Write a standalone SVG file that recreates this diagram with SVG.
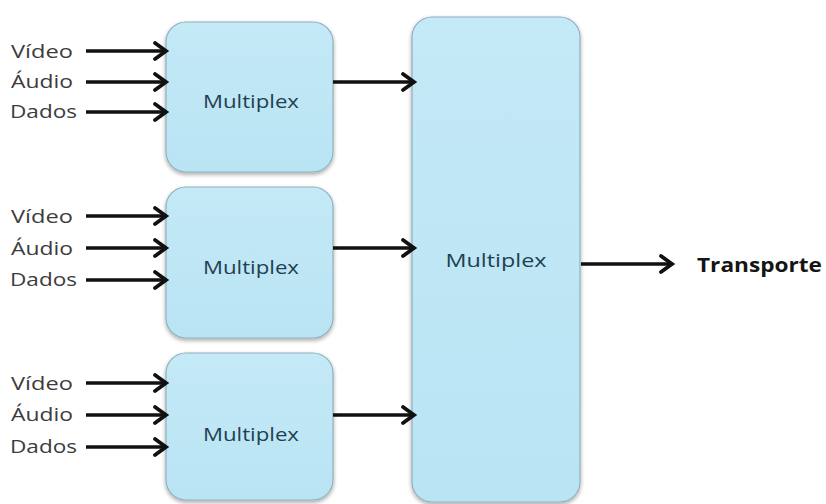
<svg xmlns="http://www.w3.org/2000/svg" width="826" height="504" viewBox="0 0 826 504">
  <defs>
    <linearGradient id="boxFill" x1="0" y1="0" x2="0" y2="1">
      <stop offset="0" stop-color="#c4e9f7"/>
      <stop offset="1" stop-color="#b9e4f4"/>
    </linearGradient>
    <filter id="shadow" x="-10%" y="-10%" width="120%" height="120%">
      <feGaussianBlur in="SourceAlpha" stdDeviation="2"/>
      <feOffset dx="0" dy="2" result="b"/>
      <feComponentTransfer><feFuncA type="linear" slope="0.35"/></feComponentTransfer>
      <feMerge><feMergeNode/><feMergeNode in="SourceGraphic"/></feMerge>
    </filter>
    <marker id="open" markerUnits="userSpaceOnUse" markerWidth="20" markerHeight="22" refX="14" refY="10" orient="auto">
      <path d="M3,2 L14,10 L3,18" fill="none" stroke="#111" stroke-width="3.8" stroke-linejoin="miter" stroke-linecap="round"/>
    </marker>
  </defs>
  <style>
    .box { fill: url(#boxFill); stroke: #8fb0bd; stroke-width: 1.2; filter: url(#shadow); }
    .mux { font-family: "Open Sans", "Liberation Sans", sans-serif; font-size: 19px; fill: #1f4152; text-anchor: middle; }
    .in { font-family: "Open Sans", "Liberation Sans", sans-serif; font-size: 19px; fill: #3c3c3c; }
    .out { font-family: "Open Sans", "Liberation Sans", sans-serif; font-size: 20px; font-weight: bold; fill: #151515; }
    .arr { fill: none; stroke: #111; stroke-width: 3.6; marker-end: url(#open); }
  </style>
  <rect width="826" height="504" fill="#ffffff"/>

  <g id="mux1">
    <rect class="box" x="166" y="22" width="167" height="150" rx="20"/>
    <text class="mux" x="251" y="108" textLength="96" lengthAdjust="spacingAndGlyphs">Multiplex</text>
  </g>
  <g id="mux2">
    <rect class="box" x="166" y="187" width="167" height="151" rx="20"/>
    <text class="mux" x="251" y="274" textLength="96" lengthAdjust="spacingAndGlyphs">Multiplex</text>
  </g>
  <g id="mux3">
    <rect class="box" x="166" y="353" width="167" height="147" rx="20"/>
    <text class="mux" x="251" y="441" textLength="96" lengthAdjust="spacingAndGlyphs">Multiplex</text>
  </g>
  <g id="muxMain">
    <rect class="box" x="412" y="17" width="168" height="485" rx="20"/>
    <text class="mux" x="496" y="267" textLength="101" lengthAdjust="spacingAndGlyphs">Multiplex</text>
  </g>

  <g id="inputs1">
    <text class="in" x="11" y="58" textLength="62" lengthAdjust="spacingAndGlyphs">Vídeo</text>
    <text class="in" x="11" y="88" textLength="62" lengthAdjust="spacingAndGlyphs">Áudio</text>
    <text class="in" x="10" y="118" textLength="67" lengthAdjust="spacingAndGlyphs">Dados</text>
  </g>
  <g id="inputs2">
    <text class="in" x="11" y="223" textLength="62" lengthAdjust="spacingAndGlyphs">Vídeo</text>
    <text class="in" x="11" y="255" textLength="62" lengthAdjust="spacingAndGlyphs">Áudio</text>
    <text class="in" x="10" y="286" textLength="67" lengthAdjust="spacingAndGlyphs">Dados</text>
  </g>
  <g id="inputs3">
    <text class="in" x="11" y="390" textLength="62" lengthAdjust="spacingAndGlyphs">Vídeo</text>
    <text class="in" x="11" y="421" textLength="62" lengthAdjust="spacingAndGlyphs">Áudio</text>
    <text class="in" x="10" y="453" textLength="67" lengthAdjust="spacingAndGlyphs">Dados</text>
  </g>
  <g id="transporte">
    <text class="out" x="697" y="272" textLength="125" lengthAdjust="spacingAndGlyphs">Transporte</text>
  </g>

  <g id="connectors">
    <line class="arr" x1="86" y1="51" x2="166" y2="51"/>
    <line class="arr" x1="86" y1="82" x2="166" y2="82"/>
    <line class="arr" x1="86" y1="112" x2="166" y2="112"/>
    <line class="arr" x1="86" y1="216" x2="166" y2="216"/>
    <line class="arr" x1="86" y1="248" x2="166" y2="248"/>
    <line class="arr" x1="86" y1="280" x2="166" y2="280"/>
    <line class="arr" x1="86" y1="383" x2="166" y2="383"/>
    <line class="arr" x1="86" y1="415" x2="166" y2="415"/>
    <line class="arr" x1="86" y1="447" x2="166" y2="447"/>
    <line class="arr" x1="333" y1="82" x2="414" y2="82"/>
    <line class="arr" x1="333" y1="248" x2="414" y2="248"/>
    <line class="arr" x1="333" y1="415" x2="414" y2="415"/>
    <line class="arr" x1="581" y1="264" x2="672" y2="264"/>
  </g>
</svg>
